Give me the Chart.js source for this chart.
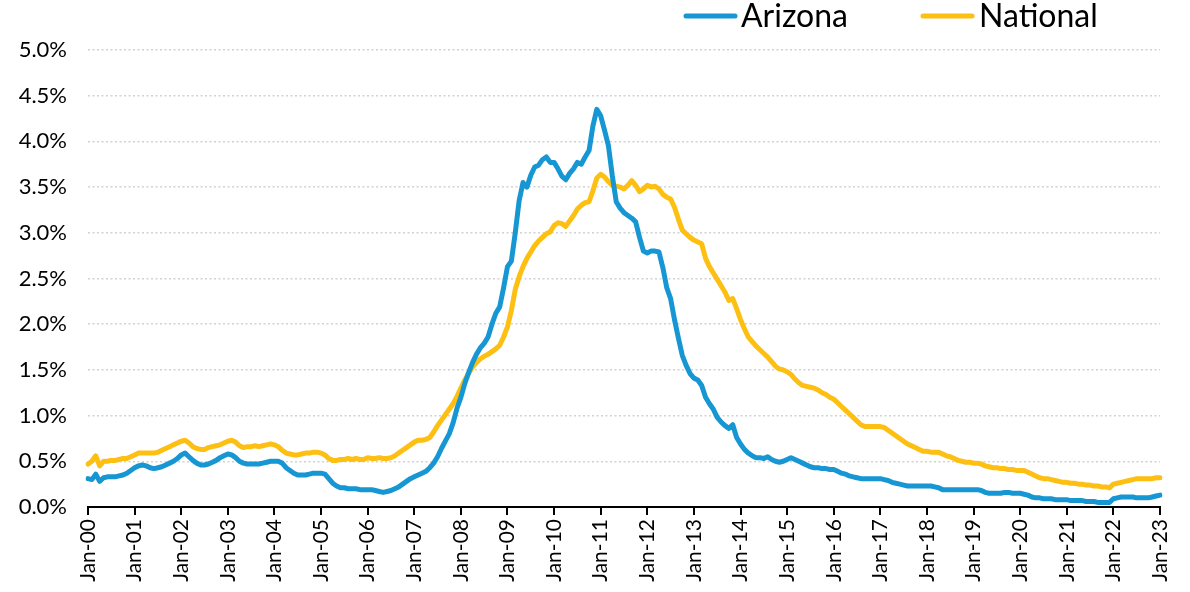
<!DOCTYPE html>
<html>
<head>
<meta charset="utf-8">
<script src="https://cdn.jsdelivr.net/npm/chart.js@4/dist/chart.umd.min.js"></script>
<style>
html,body{margin:0;padding:0;background:#fff;}
#wrap{width:1190px;height:592px;}
</style>
</head>
<body>
<div id="wrap"><canvas id="c" width="1190" height="592"></canvas></div>
<script>
// ---- tick labels (January of each year) ----
const tickLabels = ['Jan-00','Jan-01','Jan-02','Jan-03','Jan-04','Jan-05','Jan-06','Jan-07','Jan-08','Jan-09','Jan-10','Jan-11','Jan-12','Jan-13','Jan-14','Jan-15','Jan-16','Jan-17','Jan-18','Jan-19','Jan-20','Jan-21','Jan-22','Jan-23'];
const monthNames = ['Jan','Feb','Mar','Apr','May','Jun','Jul','Aug','Sep','Oct','Nov','Dec'];

// ---- series values (%), monthly Jan-2000 .. Jan-2023 ----
const arizona = [
  0.31,0.30,0.36,0.28,0.32,0.33,0.33,0.33,0.34,0.35,0.37,0.40,
  0.43,0.45,0.46,0.45,0.43,0.42,0.43,0.44,0.46,0.48,0.50,0.53,
  0.57,0.59,0.55,0.51,0.48,0.46,0.46,0.47,0.49,0.51,0.54,0.56,
  0.58,0.57,0.54,0.50,0.48,0.47,0.47,0.47,0.47,0.48,0.49,0.50,
  0.50,0.50,0.48,0.43,0.40,0.37,0.35,0.35,0.35,0.36,0.37,0.37,
  0.37,0.36,0.31,0.26,0.23,0.21,0.21,0.20,0.20,0.20,0.19,0.19,
  0.19,0.19,0.18,0.17,0.16,0.17,0.18,0.20,0.22,0.25,0.28,0.31,
  0.33,0.35,0.37,0.39,0.43,0.48,0.55,0.64,0.72,0.80,0.92,1.08,
  1.20,1.35,1.47,1.58,1.67,1.74,1.79,1.86,2.00,2.12,2.19,2.40,
  2.63,2.69,3.00,3.35,3.55,3.50,3.63,3.72,3.74,3.80,3.83,3.77,
  3.77,3.70,3.62,3.58,3.65,3.70,3.77,3.75,3.83,3.90,4.17,4.35,
  4.28,4.12,3.95,3.62,3.34,3.27,3.22,3.19,3.16,3.12,2.95,2.80,
  2.78,2.80,2.80,2.79,2.62,2.40,2.28,2.05,1.85,1.66,1.55,1.46,
  1.41,1.39,1.33,1.20,1.13,1.07,0.98,0.93,0.89,0.86,0.90,0.76,
  0.69,0.63,0.59,0.56,0.54,0.54,0.53,0.55,0.52,0.50,0.49,0.50,
  0.52,0.54,0.52,0.50,0.48,0.46,0.44,0.43,0.43,0.42,0.42,0.41,
  0.41,0.39,0.37,0.36,0.34,0.33,0.32,0.31,0.31,0.31,0.31,0.31,
  0.31,0.30,0.29,0.27,0.26,0.25,0.24,0.23,0.23,0.23,0.23,0.23,
  0.23,0.23,0.22,0.21,0.19,0.19,0.19,0.19,0.19,0.19,0.19,0.19,
  0.19,0.19,0.18,0.16,0.15,0.15,0.15,0.15,0.16,0.16,0.15,0.15,
  0.15,0.14,0.13,0.11,0.10,0.10,0.09,0.09,0.09,0.08,0.08,0.08,
  0.08,0.07,0.07,0.07,0.07,0.06,0.06,0.06,0.05,0.05,0.05,0.05,
  0.09,0.10,0.11,0.11,0.11,0.11,0.10,0.10,0.10,0.10,0.11,0.12,
  0.13
];
const national = [
  0.47,0.50,0.56,0.45,0.50,0.50,0.51,0.51,0.52,0.53,0.53,0.55,
  0.57,0.59,0.59,0.59,0.59,0.59,0.60,0.62,0.64,0.66,0.68,0.70,
  0.72,0.73,0.70,0.66,0.64,0.63,0.63,0.65,0.66,0.67,0.68,0.70,
  0.72,0.73,0.71,0.67,0.65,0.66,0.66,0.67,0.66,0.67,0.68,0.69,
  0.68,0.66,0.62,0.59,0.58,0.57,0.57,0.58,0.59,0.59,0.60,0.60,
  0.59,0.57,0.53,0.51,0.51,0.52,0.52,0.53,0.52,0.53,0.52,0.52,
  0.54,0.53,0.53,0.54,0.53,0.53,0.54,0.56,0.59,0.62,0.65,0.68,
  0.71,0.73,0.73,0.74,0.76,0.82,0.89,0.95,1.01,1.07,1.13,1.21,
  1.30,1.39,1.46,1.53,1.58,1.62,1.65,1.67,1.70,1.73,1.77,1.86,
  1.97,2.15,2.38,2.52,2.63,2.72,2.79,2.86,2.91,2.95,2.99,3.01,
  3.08,3.11,3.10,3.07,3.13,3.19,3.26,3.30,3.33,3.34,3.46,3.60,
  3.64,3.61,3.56,3.52,3.51,3.50,3.48,3.52,3.57,3.52,3.45,3.48,
  3.52,3.50,3.51,3.48,3.42,3.39,3.37,3.28,3.15,3.03,2.99,2.95,
  2.92,2.90,2.88,2.72,2.63,2.56,2.49,2.42,2.35,2.26,2.28,2.17,
  2.05,1.95,1.86,1.81,1.76,1.72,1.68,1.64,1.59,1.54,1.51,1.50,
  1.48,1.45,1.40,1.36,1.33,1.32,1.31,1.30,1.28,1.25,1.23,1.20,
  1.18,1.14,1.10,1.06,1.02,0.98,0.94,0.90,0.88,0.88,0.88,0.88,
  0.88,0.87,0.84,0.81,0.78,0.75,0.72,0.69,0.67,0.65,0.63,0.61,
  0.61,0.60,0.60,0.60,0.58,0.56,0.55,0.53,0.51,0.50,0.49,0.49,
  0.48,0.48,0.47,0.45,0.44,0.43,0.43,0.42,0.42,0.41,0.41,0.40,
  0.40,0.40,0.38,0.36,0.34,0.32,0.31,0.31,0.30,0.29,0.28,0.27,
  0.27,0.26,0.26,0.25,0.25,0.24,0.24,0.23,0.23,0.22,0.22,0.21,
  0.25,0.26,0.27,0.28,0.29,0.30,0.31,0.31,0.31,0.31,0.31,0.32,
  0.32
];
const seriesNames = ['Arizona','National'];
const seriesColors = ['#1696d2','#fdbf11'];

// monthly category labels built from the yearly tick labels
const categories = [];
tickLabels.forEach((t, i) => {
  const yy = t.slice(4);
  monthNames.forEach((m, j) => {
    if (i < tickLabels.length - 1 || j === 0) categories.push(m + '-' + yy);
  });
});

const legendPlugin = {
  id: 'customLegend',
  afterDraw(chart) {
    const ctx = chart.ctx;
    const slots = [{x1: 686, x2: 735, tx: 741}, {x1: 923, x2: 972, tx: 979}];
    ctx.save();
    chart.data.datasets.forEach((ds, i) => {
      const s = slots[i];
      ctx.beginPath();
      ctx.lineWidth = 5;
      ctx.lineCap = 'round';
      ctx.strokeStyle = ds.borderColor;
      ctx.moveTo(s.x1, 16);
      ctx.lineTo(s.x2, 16);
      ctx.stroke();
      ctx.fillStyle = '#000';
      ctx.font = '32px Lato';
      ctx.textBaseline = 'alphabetic';
      ctx.textAlign = 'left';
      ctx.fillText(ds.label, s.tx, 27);
    });
    ctx.restore();
  }
};

new Chart(document.getElementById('c'), {
  type: 'line',
  data: {
    labels: categories,
    datasets: [
      {label: seriesNames[0], data: arizona, borderColor: seriesColors[0], backgroundColor: seriesColors[0]},
      {label: seriesNames[1], data: national, borderColor: seriesColors[1], backgroundColor: seriesColors[1]}
    ]
  },
  options: {
    responsive: false,
    devicePixelRatio: 1,
    animation: false,
    layout: {padding: {top: 50, right: 30, left: 0, bottom: 0}},
    elements: {
      point: {radius: 0, hoverRadius: 0},
      line: {borderWidth: 5, tension: 0, borderJoinStyle: 'round', borderCapStyle: 'round'}
    },
    plugins: {legend: {display: false}, tooltip: {enabled: false}},
    scales: {
      x: {
        type: 'category',
        offset: false,
        afterFit(s) { s.height = 85; },
        grid: {display: true, drawOnChartArea: false, drawTicks: true, tickLength: 8, color: '#000', lineWidth: 2},
        border: {display: true, color: '#000', width: 2},
        ticks: {
          autoSkip: false, maxRotation: 90, minRotation: 90, padding: 4,
          color: '#000', font: {family: 'Lato', size: 21},
          callback(v) {
            const l = this.getLabelForValue(v);
            return tickLabels.includes(l) ? l : null;
          }
        }
      },
      y: {
        min: 0, max: 5,
        afterFit(s) { s.width = 88; },
        grid: {drawTicks: false, lineWidth: 1.5, color: (c) => c.tick && c.tick.value === 0 ? 'rgba(0,0,0,0)' : '#d2d2d2'},
        border: {display: false, dash: [2, 2.5]},
        ticks: {
          stepSize: 0.5, padding: 21, color: '#000', font: {family: 'Lato', size: 22},
          callback: (v) => v.toFixed(1) + '%'
        }
      }
    }
  },
  plugins: [legendPlugin]
});
</script>
</body>
</html>
